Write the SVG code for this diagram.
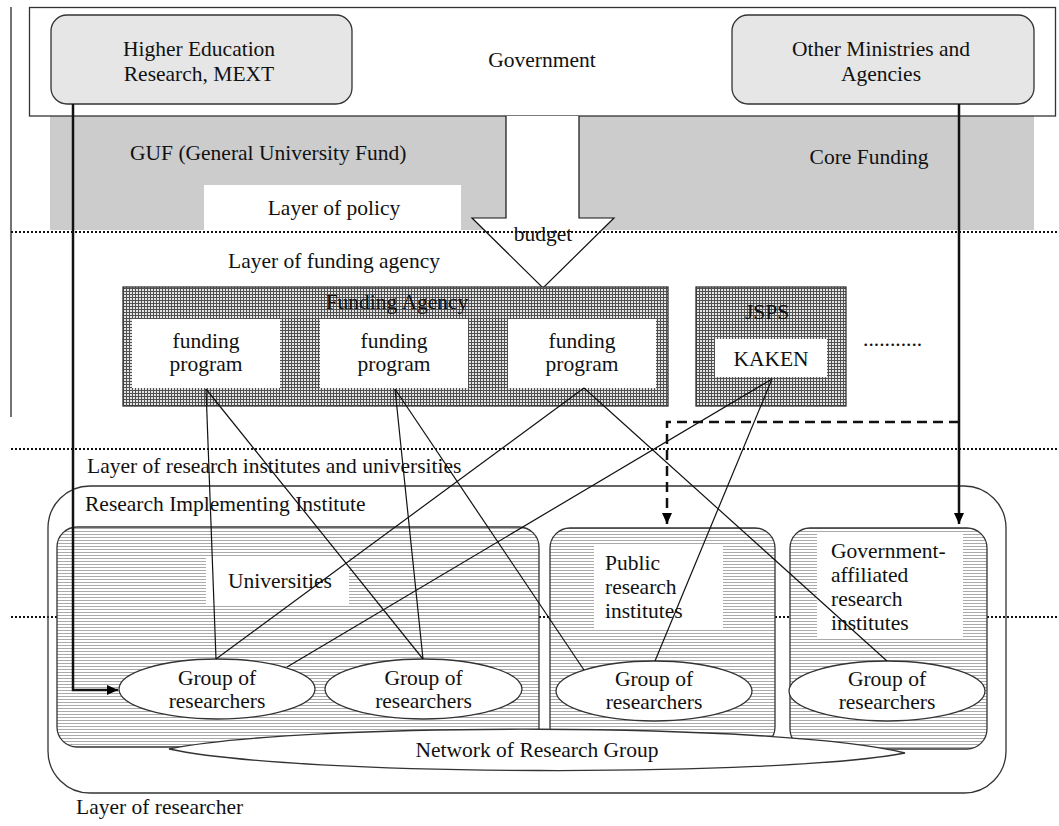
<svg xmlns="http://www.w3.org/2000/svg" width="1059" height="826" viewBox="0 0 1059 826">
<defs>
<pattern id="grid" width="3" height="3" patternUnits="userSpaceOnUse">
<rect width="3" height="3" fill="#e4e4e4"/>
<rect width="3" height="1" fill="#505050"/>
<rect width="1" height="3" fill="#505050"/>
</pattern>
<pattern id="hlines" width="3" height="3" patternUnits="userSpaceOnUse">
<rect width="3" height="3" fill="#fff"/>
<rect width="3" height="1" fill="#aaa"/>
</pattern>
<marker id="arr" markerUnits="userSpaceOnUse" markerWidth="12" markerHeight="10" refX="11" refY="5" orient="auto">
<path d="M0,0 L11,5 L0,10 z" fill="#000"/>
</marker>
</defs>
<style>
text{font-family:"Liberation Serif","Times New Roman",serif;font-size:21.5px;fill:#111}
.c{text-anchor:middle}
.box{stroke:#333;stroke-width:1.3}
.dot{stroke:#111;stroke-width:2;stroke-dasharray:2 2;fill:none}
.conn{stroke:#111;stroke-width:1.2;fill:none}
.thick{stroke:#111;stroke-width:2.5;fill:none}
.inst{fill:url(#hlines);stroke:#333;stroke-width:1.3}
.ell{fill:#fff;stroke:#333;stroke-width:1.3}
</style>

<!-- left margin line -->
<line x1="11" y1="7" x2="11" y2="417" stroke="#444" stroke-width="1.5"/>

<!-- policy layer gray regions -->
<g id="guf">
<rect x="50" y="116" width="456" height="114" fill="#cccccc"/>
<text x="130" y="160">GUF (General University Fund)</text>
</g>
<g id="core-funding">
<rect x="579" y="116" width="455" height="114" fill="#cccccc"/>
<text class="c" x="869" y="164">Core Funding</text>
</g>
<g id="layer-policy">
<rect x="204" y="185" width="257" height="46" fill="#fff"/>
<text class="c" x="334" y="215">Layer of policy</text>
</g>

<!-- Government -->
<g id="government">
<rect x="29.5" y="7.5" width="1026" height="108.5" fill="#fff" class="box"/>
<text class="c" x="542" y="67">Government</text>
</g>
<g id="mext">
<rect x="51" y="15" width="301" height="89" rx="16" fill="#e6e6e6" class="box"/>
<text class="c" x="199" y="56">Higher Education</text>
<text class="c" x="199" y="81">Research, MEXT</text>
</g>
<g id="other-ministries">
<rect x="732" y="15" width="302" height="89" rx="16" fill="#e6e6e6" class="box"/>
<text class="c" x="881" y="56">Other Ministries and</text>
<text class="c" x="881" y="81">Agencies</text>
</g>

<!-- budget arrow -->
<g id="budget">
<polygon points="506,116 506,218 472,218 543,288 614,218 579,218 579,116" fill="#fff"/>
<polyline points="506,116 506,218 472,218 543,288 614,218 579,218 579,116" fill="none" stroke="#111" stroke-width="1.2"/>
</g>

<!-- dotted layer lines -->
<g id="layer-lines">
<line class="dot" x1="11" y1="232" x2="1059" y2="232"/>
<line class="dot" x1="11" y1="449" x2="1059" y2="449"/>
<line class="dot" x1="11" y1="617" x2="1059" y2="617"/>
</g>
<g id="budget-label"><text class="c" x="543" y="241">budget</text></g>

<text x="228" y="268">Layer of funding agency</text>

<!-- Funding agency -->
<g id="funding-agency">
<rect x="123" y="287" width="545" height="119" fill="url(#grid)" class="box"/>
<text class="c" x="397" y="309">Funding Agency</text>
</g>
<g id="program1">
<rect x="132" y="319" width="148" height="69" fill="#fff"/>
<text class="c" x="206" y="348">funding</text>
<text class="c" x="206" y="371">program</text>
</g>
<g id="program2">
<rect x="320" y="319" width="148" height="69" fill="#fff"/>
<text class="c" x="394" y="348">funding</text>
<text class="c" x="394" y="371">program</text>
</g>
<g id="program3">
<rect x="508" y="319" width="148" height="69" fill="#fff"/>
<text class="c" x="582" y="348">funding</text>
<text class="c" x="582" y="371">program</text>
</g>
<g id="jsps">
<rect x="696" y="287" width="150" height="119" fill="url(#grid)" class="box"/>
<text class="c" x="767" y="319">JSPS</text>
</g>
<g id="kaken">
<rect x="715" y="339" width="112" height="38" fill="#fff"/>
<text class="c" x="771" y="366">KAKEN</text>
</g>
<g id="more"><text x="863" y="346">...........</text></g>

<text x="87" y="473">Layer of research institutes and universities</text>

<!-- Research implementing institute -->
<g id="research-implementing-institute">
<rect x="48" y="486" width="958" height="307" rx="42" fill="none" class="box"/>
<text x="85" y="511">Research Implementing Institute</text>
</g>
<g id="universities">
<rect x="57" y="527" width="482" height="220" rx="20" class="inst"/>
<rect x="206" y="557" width="143" height="47" fill="#fff"/>
<text class="c" x="280" y="588">Universities</text>
</g>
<g id="public-institutes">
<rect x="550" y="528" width="225" height="219" rx="20" class="inst"/>
<rect x="594" y="546" width="129" height="84" fill="#fff"/>
<text x="605" y="570">Public</text>
<text x="605" y="594">research</text>
<text x="605" y="618">institutes</text>
</g>
<g id="gov-affiliated">
<rect x="790" y="528" width="197" height="221" rx="20" class="inst"/>
<rect x="817" y="533" width="146" height="106" fill="#fff"/>
<text x="831" y="558">Government-</text>
<text x="831" y="582">affiliated</text>
<text x="831" y="606">research</text>
<text x="831" y="630">institutes</text>
</g>

<g id="network">
<path d="M169,749 C300,722 780,722 905,753 C780,777 300,777 169,749 Z" class="ell"/>
<text class="c" x="537" y="757">Network of Research Group</text>
</g>

<g id="group1">
<ellipse cx="217" cy="689" rx="98" ry="30" class="ell"/>
<text class="c" x="217" y="685">Group of</text>
<text class="c" x="217" y="708">researchers</text>
</g>
<g id="group2">
<ellipse cx="423.5" cy="689" rx="98.5" ry="30" class="ell"/>
<text class="c" x="423.5" y="685">Group of</text>
<text class="c" x="423.5" y="708">researchers</text>
</g>
<g id="group3">
<ellipse cx="654" cy="691" rx="98" ry="30" class="ell"/>
<text class="c" x="654" y="686">Group of</text>
<text class="c" x="654" y="709">researchers</text>
</g>
<g id="group4">
<ellipse cx="887" cy="691" rx="98" ry="30" class="ell"/>
<text class="c" x="887" y="686">Group of</text>
<text class="c" x="887" y="709">researchers</text>
</g>

<text x="76" y="814">Layer of researcher</text>

<!-- connectors -->
<g id="connectors">
<line class="conn" x1="206" y1="389" x2="216" y2="659"/>
<line class="conn" x1="206" y1="389" x2="423" y2="659"/>
<line class="conn" x1="395" y1="389" x2="423" y2="659"/>
<line class="conn" x1="395" y1="389" x2="584" y2="670"/>
<line class="conn" x1="584" y1="388" x2="216" y2="659"/>
<line class="conn" x1="584" y1="388" x2="887" y2="661"/>
<line class="conn" x1="772" y1="379" x2="287" y2="667"/>
<line class="conn" x1="772" y1="379" x2="655" y2="661"/>
<path class="thick" d="M73,104 V690 H118" marker-end="url(#arr)"/>
<path class="thick" d="M959,104 V524" marker-end="url(#arr)"/>
<path class="thick" d="M959,422 H667 V524" stroke-dasharray="10 6" marker-end="url(#arr)"/>
</g>
</svg>
